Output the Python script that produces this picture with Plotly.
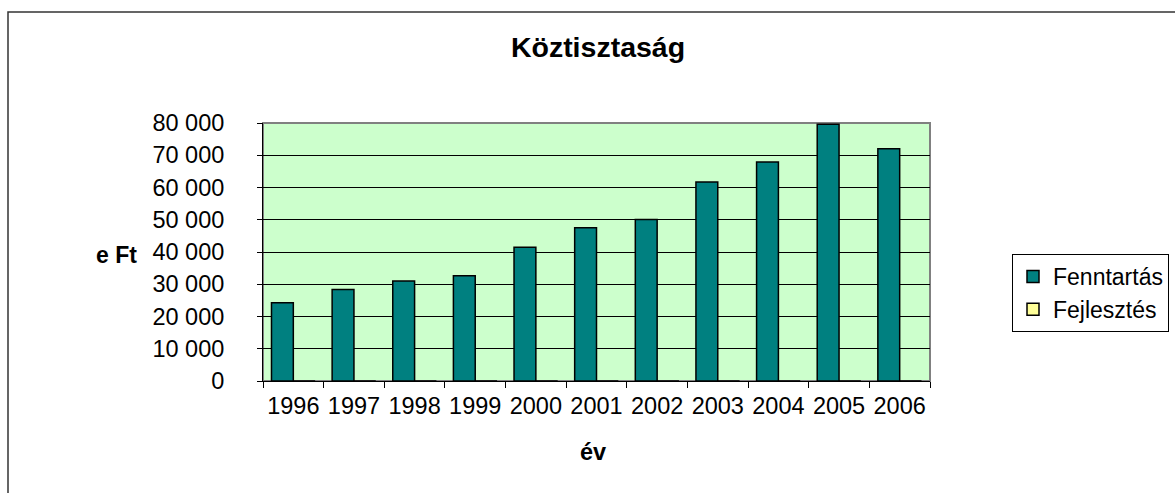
import plotly.graph_objects as go

years = ["1996", "1997", "1998", "1999", "2000", "2001", "2002", "2003", "2004", "2005", "2006"]
fenntartas = [24300, 28400, 31000, 32600, 41500, 47500, 50100, 61700, 67900, 79600, 72000]
fejlesztes = [0, 0, 0, 0, 0, 0, 0, 0, 0, 0, 0]

W, H = 1175, 493
L, R, T, B = 263, 930, 123, 381  # plot area pixel edges
pw, ph = R - L, B - T

def px(x):
    return (x - L) / pw

def py(y):
    return (B - y) / ph

FONT = "Liberation Sans, Arial, sans-serif"

fig = go.Figure()
fig.add_trace(go.Bar(x=years, y=fenntartas, name="Fenntartás",
                     marker=dict(color="#008080", line=dict(color="black", width=1.5))))
fig.add_trace(go.Bar(x=years, y=fejlesztes, name="Fejlesztés",
                     marker=dict(color="#FFFF99", line=dict(color="black", width=1.5))))

fig.update_layout(
    width=W, height=H,
    margin=dict(l=L, r=W - R, t=T, b=H - B, pad=0, autoexpand=False),
    paper_bgcolor="white",
    plot_bgcolor="#CCFFCC",
    separators=", ",
    font=dict(family=FONT, size=23.5, color="black"),
    barmode="group",
    bargap=0.28,
    bargroupgap=0,
    title=dict(text="<b>Köztisztaság</b>", x=598 / W, xanchor="center",
               y=1 - 47 / H, yanchor="middle",
               font=dict(family=FONT, size=28.5, color="black")),
    showlegend=True,
    legend=dict(x=px(1012), y=py(254), xanchor="left", yanchor="top",
                bordercolor="black", borderwidth=1, bgcolor="white",
                font=dict(family=FONT, size=23, color="black"),
                traceorder="normal", itemwidth=30),
)

fig.update_yaxes(range=[0, 80000], dtick=10000, tickformat=",",
                 showgrid=True, gridcolor="black", gridwidth=1,
                 showline=True, linecolor="black", linewidth=1,
                 ticks="outside", ticklen=5, tickcolor="black",
                 ticklabelstandoff=28, zeroline=False, automargin=False,
                 tickfont=dict(family=FONT, size=23.5, color="black"))
fig.update_xaxes(showline=True, linecolor="black", linewidth=1,
                 ticks="outside", ticklen=6, tickcolor="black", tickangle=0,
                 tickson="boundaries", showgrid=False, ticklabelstandoff=4,
                 automargin=False,
                 tickfont=dict(family=FONT, size=23.5, color="black"))

# back-wall edge (gray) and chart border
fig.add_shape(type="rect", xref="paper", yref="paper", x0=0, x1=1, y0=0, y1=1,
              line=dict(color="#808080", width=2), fillcolor="rgba(0,0,0,0)", layer="below")
fig.add_shape(type="rect", xref="paper", yref="paper",
              x0=px(8), x1=px(1300), y0=py(12), y1=py(560),
              line=dict(color="#333333", width=1.5), fillcolor="rgba(0,0,0,0)")

fig.add_annotation(text="<b>e Ft</b>", xref="paper", yref="paper",
                   x=px(116), y=py(255), xanchor="center", yanchor="middle",
                   showarrow=False, font=dict(family=FONT, size=23, color="black"))
fig.add_annotation(text="<b>év</b>", xref="paper", yref="paper",
                   x=px(593), y=py(452), xanchor="center", yanchor="middle",
                   showarrow=False, font=dict(family=FONT, size=23.5, color="black"))

fig.write_html("out.html", config={"displayModeBar": False},
               post_script="document.body.style.margin='0';")
